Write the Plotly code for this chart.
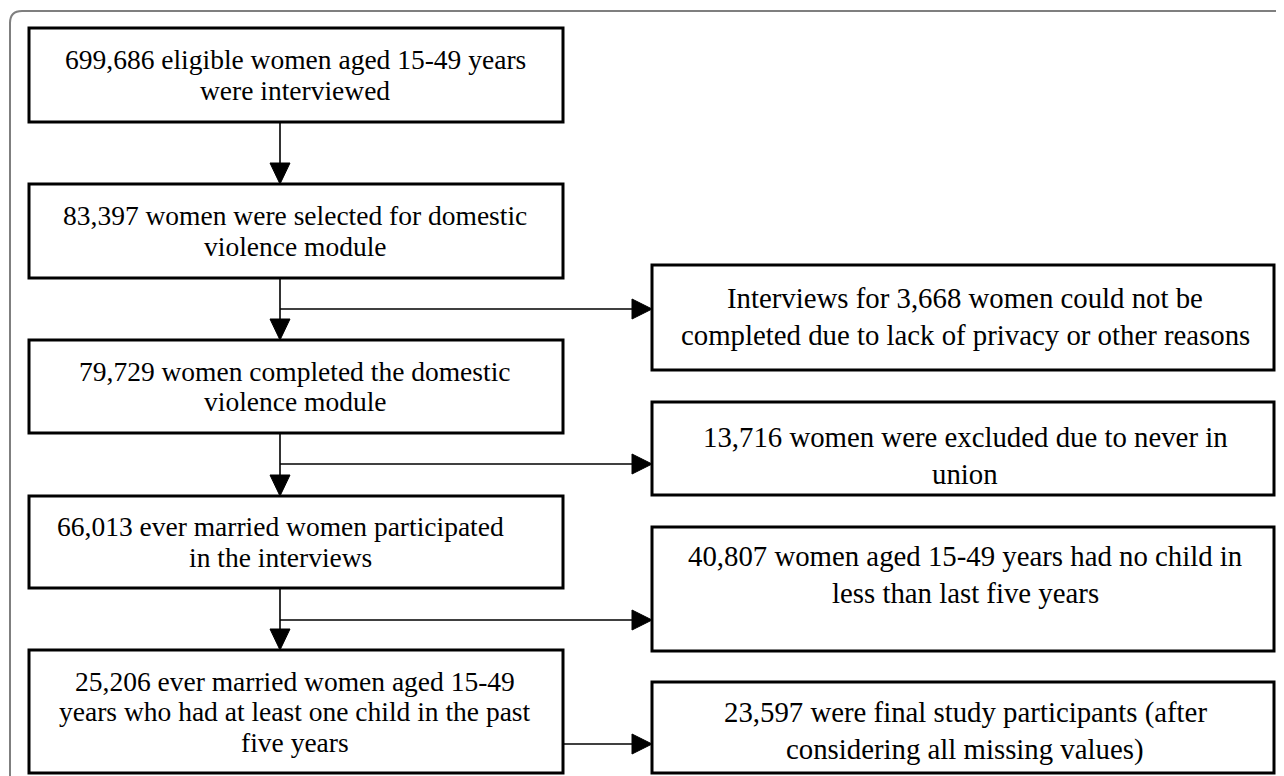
import plotly.graph_objects as go

# ---- content (flowchart texts) ----
main_steps = [
    ["699,686 eligible women aged 15-49 years", "were interviewed"],
    ["83,397 women were selected for domestic", "violence module"],
    ["79,729 women completed the domestic", "violence module"],
    ["66,013 ever married women participated", "in the interviews"],
    ["25,206 ever married women aged 15-49", "years who had at least one child in the past", "five years"],
]
exclusions = [
    ["Interviews for 3,668 women could not be", "completed due to lack of privacy or other reasons"],
    ["13,716 women were excluded due to never in", "union"],
    ["40,807 women aged 15-49 years had no child in", "less than last five years"],
    ["23,597 were final study participants (after", "considering all missing values)"],
]

# ---- layout geometry (pixels of the final page) ----
W, H = 1284, 776
OFF = 8  # default body margin of the html page
LX0, LX1 = 29, 563
left_y = [(28, 122), (184, 278), (340, 433), (496, 588), (650, 773)]
left_text_x = [295, 295, 295, 280, 295]
RX0, RX1 = 652, 1274
right_y = [(265, 370), (402, 495), (527, 651), (682, 773)]
branch_y = [309, 464, 620, 744]
right_text_cy = [316, 455, 574, 731]
ARROW_X = 280
RIGHT_TEXT_X = 965
LEFT_LS = 30.5
RIGHT_LS = 37
FONT = "Liberation Serif"
FS_L = 27.5
FS_R = 28.8

shapes = []
annotations = []

# outer frame with rounded top-left corner
shapes.append(dict(type="path", path="M 10,800 L 10,23 Q 10,11 22,11 L 1300,11",
                   line=dict(color="#7f7f7f", width=2), xref="x", yref="y"))

def box(x0, y0, x1, y1):
    shapes.append(dict(type="rect", x0=x0, y0=y0, x1=x1, y1=y1, xref="x", yref="y",
                       line=dict(color="black", width=3), fillcolor="white"))

def line(x0, y0, x1, y1):
    shapes.append(dict(type="line", x0=x0, y0=y0, x1=x1, y1=y1, xref="x", yref="y",
                       line=dict(color="black", width=1.6)))

def head_down(x, ytip):
    shapes.append(dict(type="path", path=f"M {x-10},{ytip-21} L {x+10},{ytip-21} L {x},{ytip} Z",
                       fillcolor="black", line=dict(color="black", width=1), xref="x", yref="y"))

def head_right(xtip, y):
    shapes.append(dict(type="path", path=f"M {xtip-20},{y-10} L {xtip-20},{y+10} L {xtip},{y} Z",
                       fillcolor="black", line=dict(color="black", width=1), xref="x", yref="y"))

def text_lines(lines, cx, cy, ls, fs):
    n = len(lines)
    for i, t in enumerate(lines):
        y = cy + (i - (n - 1) / 2) * ls
        annotations.append(dict(x=cx, y=y, xref="x", yref="y", text=t, showarrow=False,
                                xanchor="center", yanchor="middle",
                                font=dict(family=FONT, size=fs, color="black")))

# vertical arrows between main boxes
for i in range(len(left_y) - 1):
    y0 = left_y[i][1]
    y1 = left_y[i + 1][0]
    line(ARROW_X, y0, ARROW_X, y1 - 18)
    head_down(ARROW_X, y1)

# branch arrows to exclusion boxes
for i, by in enumerate(branch_y):
    xs = ARROW_X if i < len(branch_y) - 1 else LX1
    line(xs, by, RX0 - 18, by)
    head_right(RX0, by)

for (y0, y1), tx, lines in zip(left_y, left_text_x, main_steps):
    box(LX0, y0, LX1, y1)
    text_lines(lines, tx, (y0 + y1) / 2, LEFT_LS, FS_L)

for (y0, y1), cy, lines in zip(right_y, right_text_cy, exclusions):
    box(RX0, y0, RX1, y1)
    text_lines(lines, RIGHT_TEXT_X, cy, RIGHT_LS, FS_R)

fig = go.Figure()
fig.add_trace(go.Scatter(x=[None], y=[None], showlegend=False, hoverinfo="skip"))
fig.update_layout(
    width=W, height=H,
    margin=dict(l=0, r=0, t=0, b=0),
    paper_bgcolor="white", plot_bgcolor="white",
    xaxis=dict(range=[OFF, W + OFF], visible=False, fixedrange=True),
    yaxis=dict(range=[H + OFF, OFF], visible=False, fixedrange=True),
    shapes=shapes, annotations=annotations, showlegend=False,
)
fig.write_html("out.html")
